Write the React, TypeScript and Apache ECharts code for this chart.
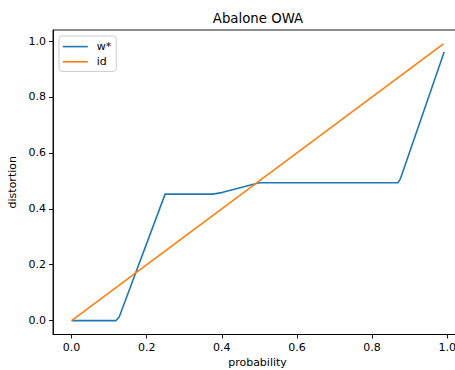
import React, { useEffect, useRef } from "react";
import * as echarts from "echarts";

const wX = [0, 0.118, 0.127, 0.249, 0.376, 0.4, 0.487, 0.5, 0.869, 0.876, 0.992];
const wY = [0, 0, 0.014, 0.4525, 0.4525, 0.458, 0.489, 0.493, 0.493, 0.509, 0.961];
const idX = [0, 0.99];
const idY = [0, 0.99];
const tickValues = [0, 0.2, 0.4, 0.6, 0.8, 1.0];
const seriesNames = ["w*", "id"];
const titleText = "Abalone OWA";
const xName = "probability";
const yName = "distortion";

const FONT = "DejaVu Sans";

export default function App() {
  const ref = useRef<HTMLDivElement>(null);
  useEffect(() => {
    if (!ref.current) return;
    const chart = echarts.init(ref.current, null, { renderer: "svg" });
    const axisCommon = (name: string, gap: number) => ({
      type: "value" as const,
      min: -0.0495,
      max: 1.0395,
      name,
      nameLocation: "middle" as const,
      nameGap: gap,
      nameTextStyle: { fontFamily: FONT, fontSize: 11, color: "#000" },
      splitLine: { show: false },
      axisLine: { show: true, onZero: false, lineStyle: { color: "#000", width: 0.9 } },
      axisTick: {
        show: true,
        inside: false,
        length: 4,
        lineStyle: { color: "#000", width: 0.9 },
        customValues: tickValues,
      },
      axisLabel: {
        show: true,
        margin: 7,
        fontFamily: FONT,
        fontSize: 11,
        color: "#000",
        customValues: tickValues,
        formatter: (v: number) => v.toFixed(1),
      },
    });
    chart.setOption({
      animation: false,
      backgroundColor: "#fff",
      title: {
        text: titleText,
        left: 258,
        top: 12,
        padding: 0,
        textAlign: "center",
        textStyle: { fontFamily: FONT, fontSize: 13.3, fontWeight: "normal", color: "#000" },
      },
      grid: {
        left: 53,
        right: 8,
        top: 30,
        bottom: 35.5,
        show: true,
        borderColor: "#000",
        borderWidth: 0.9,
        containLabel: false,
        outerBoundsMode: "none",
      },
      legend: {
        orient: "vertical",
        left: 59,
        top: 36,
        padding: [5, 5, 4, 3],
        itemWidth: 25,
        itemHeight: 14,
        itemGap: 4,
        backgroundColor: "rgba(255,255,255,0.8)",
        borderColor: "#cccccc",
        borderWidth: 1,
        borderRadius: 3,
        itemStyle: { opacity: 0 },
        lineStyle: { width: 1.6, opacity: 1 },
        textStyle: { fontFamily: FONT, fontSize: 11, color: "#000", padding: [0, 0, 0, 4] },
        data: seriesNames,
      },
      xAxis: axisCommon(xName, 22),
      yAxis: axisCommon(yName, 30),
      series: [
        {
          name: seriesNames[0],
          type: "line",
          symbol: "none",
          color: "#1f77b4",
          lineStyle: { width: 1.6, color: "#1f77b4" },
          data: wX.map((x, i) => [x, wY[i]]),
          z: 2,
        },
        {
          name: seriesNames[1],
          type: "line",
          symbol: "none",
          color: "#ff7f0e",
          lineStyle: { width: 1.6, color: "#ff7f0e" },
          data: idX.map((x, i) => [x, idY[i]]),
          z: 3,
        },
      ],
    });
    return () => chart.dispose();
  }, []);
  return (
    <div style={{ position: "fixed", left: 0, top: 0, width: 455, height: 370, overflow: "hidden", background: "#fff" }}>
      <div ref={ref} style={{ width: 470, height: 370 }} />
    </div>
  );
}
